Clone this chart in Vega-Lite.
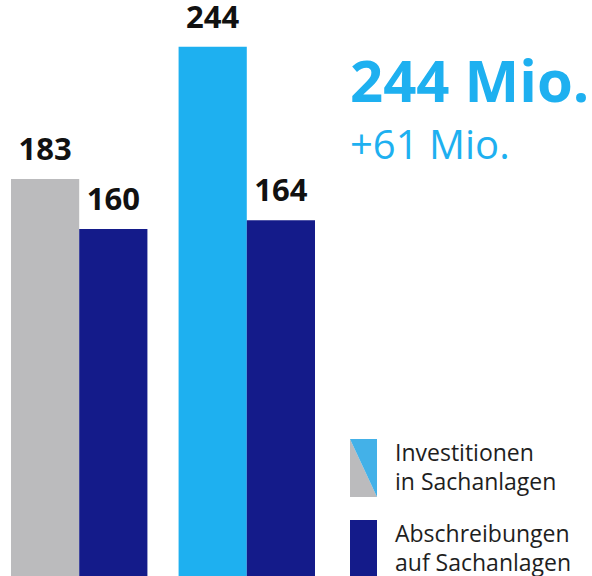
{
  "$schema": "https://vega.github.io/schema/vega-lite/v6.json",
  "width": 592,
  "height": 576,
  "autosize": "none",
  "padding": 0,
  "background": "white",
  "config": {"view": {"stroke": null}, "style": {"guide-label": {"lineHeight": 29, "dy": -7}}},
  "title": {
    "text": "244 Mio.",
    "subtitle": "+61 Mio.",
    "anchor": "start",
    "frame": "group",
    "orient": "top",
    "dx": 350,
    "offset": -167,
    "font": "Open Sans",
    "fontSize": 58,
    "fontWeight": "bold",
    "color": "#1EB0F0",
    "subtitleFont": "Open Sans",
    "subtitleFontSize": 40,
    "subtitleFontWeight": "normal",
    "subtitleColor": "#1EB0F0",
    "subtitlePadding": 13
  },
  "data": {
    "values": [
      {"jahr": "Vorjahr", "reihe": "Investitionen", "farbe": "Investitionen Vorjahr", "wert": 183},
      {"jahr": "Vorjahr", "reihe": "Abschreibungen", "farbe": "Abschreibungen", "wert": 160},
      {"jahr": "Berichtsjahr", "reihe": "Investitionen", "farbe": "Investitionen", "wert": 244},
      {"jahr": "Berichtsjahr", "reihe": "Abschreibungen", "farbe": "Abschreibungen", "wert": 164}
    ]
  },
  "encoding": {
    "x": {"field": "jahr", "type": "nominal", "axis": null, "sort": ["Vorjahr", "Berichtsjahr"], "scale": {"range": [11, 315], "paddingInner": 0.186, "paddingOuter": 0}},
    "xOffset": {"field": "reihe", "type": "nominal", "sort": ["Investitionen", "Abschreibungen"], "scale": {"paddingInner": 0, "paddingOuter": 0}},
    "y": {"field": "wert", "type": "quantitative", "axis": null, "scale": {"domain": [0, 265.5], "nice": false}}
  },
  "resolve": {"scale": {"shape": "independent"}, "legend": {"shape": "independent"}},
  "layer": [
    {
      "mark": {"type": "bar"},
      "encoding": {
        "color": {
          "field": "farbe",
          "type": "nominal",
          "scale": {"domain": ["Investitionen Vorjahr", "Investitionen", "Abschreibungen"], "range": ["#BBBBBD", "#1EB0F0", "#141B8A"]},
          "legend": {
            "orient": "none",
            "legendX": 334.5,
            "legendY": 520,
            "title": null,
            "padding": 0,
            "values": ["Abschreibungen"],
            "symbolType": "M-0.4655,-1L0.4655,-1L0.4655,1L-0.4655,1Z",
            "symbolSize": 3364,
            "symbolStrokeWidth": 0,
            "symbolOpacity": 1,
            "labelFont": "Open Sans",
            "labelFontSize": 23,
            "labelColor": "#1E1E1E",
            "labelLimit": 300,
            "labelOffset": 2.5,
            "labelBaseline": "alphabetic",
            "labelExpr": "['Abschreibungen', 'auf Sachanlagen']"
          }
        }
      }
    },
    {
      "transform": [{"filter": "datum.reihe == 'Investitionen'"}],
      "mark": {"type": "point", "filled": true, "color": "#BBBBBD", "opacity": 0},
      "encoding": {
        "shape": {
          "field": "reihe",
          "type": "nominal",
          "scale": {"domain": ["Investitionen"], "range": ["M-0.4655,-1L0.4655,1L-0.4655,1Z"]},
          "legend": {
            "orient": "none",
            "legendX": 334.5,
            "legendY": 439,
            "title": null,
            "padding": 0,
            "symbolSize": 3364,
            "symbolStrokeWidth": 0,
            "symbolOpacity": 1,
            "symbolFillColor": "#BBBBBD",
            "labelFont": "Open Sans",
            "labelFontSize": 23,
            "labelColor": "#1E1E1E",
            "labelLimit": 300,
            "labelOffset": 2.5,
            "labelBaseline": "alphabetic",
            "labelExpr": "['Investitionen', 'in Sachanlagen']"
          }
        }
      }
    },
    {
      "transform": [{"filter": "datum.reihe == 'Investitionen'"}],
      "mark": {"type": "point", "filled": true, "color": "#43B1E8", "opacity": 0},
      "encoding": {
        "shape": {
          "field": "reihe",
          "type": "nominal",
          "scale": {"domain": ["Investitionen"], "range": ["M-0.4655,-1L0.4655,-1L0.4655,1Z"]},
          "legend": {
            "orient": "none",
            "legendX": 334.5,
            "legendY": 439,
            "title": null,
            "padding": 0,
            "symbolSize": 3364,
            "symbolStrokeWidth": 0,
            "symbolOpacity": 1,
            "symbolFillColor": "#43B1E8",
            "labelExpr": "''"
          }
        }
      }
    },
    {
      "mark": {"type": "text", "baseline": "alphabetic", "dy": -19, "font": "Open Sans", "fontSize": 31, "fontWeight": "bold", "color": "#111111"},
      "encoding": {"text": {"field": "wert", "type": "quantitative"}}
    }
  ]
}
